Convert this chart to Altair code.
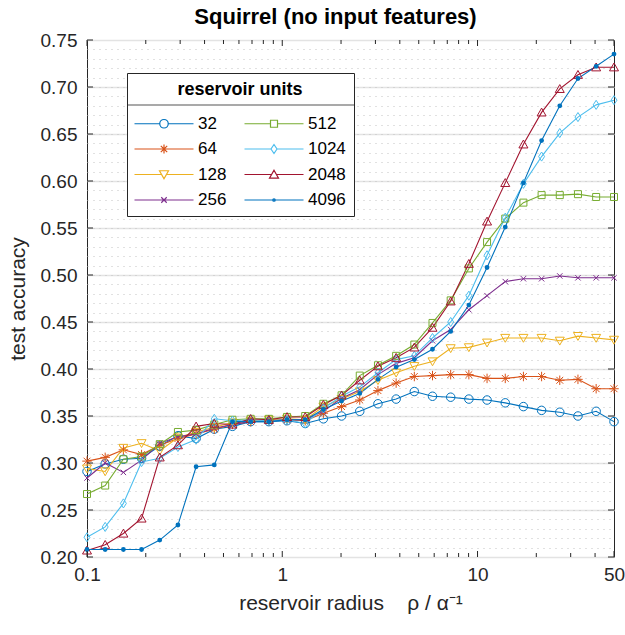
import altair as alt
import pandas as pd

# ---------------- data ----------------
radius = [0.1, 0.1239, 0.1536, 0.1903, 0.2358, 0.2922, 0.3621, 0.4486, 0.5559, 0.6889,
          0.8537, 1.058, 1.311, 1.624, 2.013, 2.494, 3.091, 3.830, 4.746, 5.881,
          7.287, 9.030, 11.19, 13.87, 17.18, 21.29, 26.38, 32.69, 40.51, 50.0]

acc_32 = [0.291, 0.299, 0.304, 0.305, 0.318, 0.329, 0.326, 0.336, 0.339, 0.344,
          0.344, 0.345, 0.342, 0.347, 0.350, 0.355, 0.363, 0.368, 0.376, 0.371,
          0.370, 0.368, 0.367, 0.364, 0.360, 0.356, 0.354, 0.350, 0.355, 0.344]
acc_64 = [0.302, 0.306, 0.314, 0.309, 0.319, 0.326, 0.331, 0.336, 0.341, 0.344,
          0.345, 0.346, 0.345, 0.353, 0.360, 0.367, 0.377, 0.385, 0.392, 0.393,
          0.394, 0.394, 0.390, 0.390, 0.392, 0.392, 0.388, 0.389, 0.379, 0.379]
acc_128 = [0.294, 0.291, 0.316, 0.321, 0.313, 0.327, 0.333, 0.338, 0.343, 0.345,
           0.346, 0.347, 0.346, 0.360, 0.368, 0.376, 0.388, 0.396, 0.403, 0.408,
           0.422, 0.423, 0.428, 0.433, 0.433, 0.433, 0.430, 0.435, 0.433, 0.431]
acc_256 = [0.284, 0.300, 0.290, 0.303, 0.321, 0.328, 0.331, 0.337, 0.341, 0.344,
           0.345, 0.346, 0.346, 0.355, 0.369, 0.378, 0.394, 0.406, 0.412, 0.430,
           0.442, 0.463, 0.478, 0.493, 0.496, 0.496, 0.499, 0.497, 0.497, 0.497]
acc_512 = [0.267, 0.276, 0.304, 0.307, 0.320, 0.333, 0.335, 0.341, 0.346, 0.347,
           0.347, 0.349, 0.350, 0.363, 0.372, 0.393, 0.404, 0.414, 0.426, 0.449,
           0.473, 0.507, 0.535, 0.560, 0.577, 0.585, 0.585, 0.586, 0.583, 0.583]
acc_1024 = [0.221, 0.232, 0.257, 0.301, 0.305, 0.317, 0.325, 0.347, 0.345, 0.346,
            0.345, 0.346, 0.342, 0.358, 0.371, 0.381, 0.396, 0.410, 0.414, 0.433,
            0.450, 0.478, 0.521, 0.561, 0.597, 0.626, 0.651, 0.668, 0.681, 0.686]
acc_2048 = [0.207, 0.213, 0.225, 0.241, 0.306, 0.319, 0.339, 0.342, 0.341, 0.347,
            0.346, 0.349, 0.349, 0.362, 0.372, 0.388, 0.403, 0.412, 0.423, 0.444,
            0.472, 0.512, 0.557, 0.598, 0.639, 0.673, 0.698, 0.713, 0.721, 0.721]
acc_4096 = [0.208, 0.208, 0.208, 0.208, 0.218, 0.234, 0.296, 0.298, 0.344, 0.344,
            0.344, 0.346, 0.346, 0.357, 0.366, 0.374, 0.389, 0.402, 0.410, 0.421,
            0.440, 0.468, 0.508, 0.551, 0.598, 0.643, 0.680, 0.709, 0.722, 0.735]

units = ["32", "64", "128", "256", "512", "1024", "2048", "4096"]
series = [acc_32, acc_64, acc_128, acc_256, acc_512, acc_1024, acc_2048, acc_4096]
colors = ["#0072BD", "#D95319", "#EDB120", "#7E2F8E",
          "#77AC30", "#4DBEEE", "#A2142F", "#0072BD"]

x_major_ticks = [0.1, 1, 10, 50]
x_minor_ticks = [0.2, 0.3, 0.4, 0.5, 0.6, 0.7, 0.8, 0.9,
                 2, 3, 4, 5, 6, 7, 8, 9, 20, 30, 40]
y_major_ticks = [0.20, 0.25, 0.30, 0.35, 0.40, 0.45, 0.50, 0.55, 0.60, 0.65, 0.70, 0.75]
y_minor_grid = [round(0.20 + 0.01 * i, 2) for i in range(1, 55)]

rows = []
for u, s in zip(units, series):
    for r, a in zip(radius, s):
        rows.append({"radius": r, "acc": a, "units": u})
df = pd.DataFrame(rows)

# ---------------- styles ----------------
FONT = "Liberation Sans, Arial, Helvetica, sans-serif"
AX = "#262626"
NB = "\u00a0"
W, H = 527, 517

markers = {
    "32": ("circle", 72, 1.0),
    "64": ("M0,-1V1M-1,0H1M-0.72,-0.72L0.72,0.72M-0.72,0.72L0.72,-0.72", 90, 1.0),
    "128": ("M-1,-0.8H1L0,0.95Z", 81, 1.0),
    "256": ("M-0.75,-0.75L0.75,0.75M-0.75,0.75L0.75,-0.75", 52, 1.0),
    "512": ("M-1,-1H1V1H-1Z", 49, 1.0),
    "1024": ("M0,-1.3L0.85,0L0,1.3L-0.85,0Z", 49, 1.0),
    "2048": ("M0,-0.95L1,0.8H-1Z", 81, 1.0),
    "4096": ("circle", 5, 2.6),
}

# legend symbols: line segment with marker in its middle (size 100 -> 5 px per unit)
a0, a1, c = -1.8, 10.0, 4.1
legend_paths = {
    "32": f"M{a0},0H{c-0.85}M{c+0.85},0H{a1}M{c+0.85},0A0.85,0.85 0 1,0 {c-0.85},0A0.85,0.85 0 1,0 {c+0.85},0",
    "64": f"M{a0},0H{a1}M{c},-0.9V0.9M{c-0.64},-0.64L{c+0.64},0.64M{c-0.64},0.64L{c+0.64},-0.64",
    "128": f"M{a0},0H{c-0.45}M{c+0.45},0H{a1}M{c-0.9},-0.75H{c+0.9}L{c},0.85Z",
    "256": f"M{a0},0H{a1}M{c-0.55},-0.55L{c+0.55},0.55M{c-0.55},0.55L{c+0.55},-0.55",
    "512": f"M{a0},0H{c-0.7}M{c+0.7},0H{a1}M{c-0.7},-0.7H{c+0.7}V0.7H{c-0.7}Z",
    "1024": f"M{a0},0H{c-0.6}M{c+0.6},0H{a1}M{c},-0.9L{c+0.6},0L{c},0.9L{c-0.6},0Z",
    "2048": f"M{a0},0H{c-0.45}M{c+0.45},0H{a1}M{c},-0.85L{c+0.9},0.72H{c-0.9}Z",
    "4096": f"M{a0},0H{a1}M{c+0.25},0A0.25,0.25 0 1,0 {c-0.25},0A0.25,0.25 0 1,0 {c+0.25},0",
}

xs = alt.Scale(type="log", domain=[0.1, 50], nice=False)
ys = alt.Scale(domain=[0.2, 0.75], nice=False, zero=False)
cs = alt.Scale(domain=units, range=colors)

# ---------------- axes ----------------
x_label_axis = alt.Axis(values=x_major_ticks, format="~g", ticks=False, domain=False, grid=False,
                        labelFlush=False, labelFont=FONT, labelFontSize=19, labelColor=AX,
                        labelPadding=8,
                        title=f"reservoir radius{NB}{NB}{NB}{NB}ρ / α⁻¹", titleFont=FONT,
                        titleFontSize=21, titleFontWeight="normal", titleColor=AX,
                        titlePadding=8)
y_label_axis = alt.Axis(values=y_major_ticks, format=".2f", ticks=False, domain=False, grid=True,
                        gridColor="#e3e3e3", gridWidth=1.3, labelFlush=False,
                        labelFont=FONT, labelFontSize=19, labelColor=AX, labelPadding=10,
                        title="test accuracy", titleFont=FONT, titleFontSize=21,
                        titleFontWeight="normal", titleColor=AX, titlePadding=12)
y_minor_axis = alt.Axis(orient="left", values=y_minor_grid, grid=True, gridDash=[1, 5],
                        gridColor="#c2c2c2", gridWidth=1, ticks=False, labels=False,
                        domain=False, title=None)

# ---------------- legend ----------------
legend = alt.Legend(
    title="reservoir units", orient="none", legendX=40, legendY=33, columns=2,
    symbolSize=100, symbolStrokeWidth=1.2, symbolOpacity=1,
    labelFont=FONT, labelFontSize=17, labelColor="black", labelOffset=46,
    titleFont=FONT, titleFontSize=18, titleFontWeight="bold", titleColor="black",
    titleAnchor="middle", titlePadding=16, padding=8, rowPadding=7.5, columnPadding=15,
    strokeColor=AX, cornerRadius=0,
)

legend_df = pd.DataFrame({"units": units})
dummy = alt.Chart(legend_df).mark_point(
    filled=False, size=100, strokeWidth=1.2, opacity=1, clip=True
).encode(
    x=alt.value(-200), y=alt.value(-200),
    color=alt.Color("units:N", scale=cs, legend=legend),
    shape=alt.Shape("units:N", scale=alt.Scale(domain=units,
                                                range=[legend_paths[u] for u in units]),
                    legend=legend),
)

one = pd.DataFrame({"a": [0]})
legend_bg = alt.Chart(one).mark_rect(color="white").encode(
    x=alt.value(40), x2=alt.value(268), y=alt.value(33), y2=alt.value(176)
)
legend_sep = alt.Chart(one).mark_rule(color="#8c8c8c", strokeWidth=1.5).encode(
    x=alt.value(40), x2=alt.value(268), y=alt.value(65)
)

# ---------------- data layers ----------------
base = alt.Chart(df)

lines = base.mark_line(strokeWidth=1.1).encode(
    x=alt.X("radius:Q", scale=xs, axis=x_label_axis),
    y=alt.Y("acc:Q", scale=ys, axis=y_label_axis),
    color=alt.Color("units:N", scale=cs, legend=None),
)

layers = [dummy, legend_bg, legend_sep, lines]
for i, u in enumerate(units):
    shape, size, sw = markers[u]
    ya = y_minor_axis if i == 0 else None
    pts = base.transform_filter(alt.datum.units == u).mark_point(
        shape=shape, size=size, filled=False, strokeWidth=sw, opacity=1
    ).encode(
        x=alt.X("radius:Q", scale=xs, axis=None),
        y=alt.Y("acc:Q", scale=ys, axis=ya),
        color=alt.Color("units:N", scale=cs, legend=None),
    )
    layers.append(pts)

# inside tick marks (box style), positioned through the scales
xmaj = alt.Chart(pd.DataFrame({"radius": x_major_ticks}))
xmin = alt.Chart(pd.DataFrame({"radius": x_minor_ticks}))
ymaj = alt.Chart(pd.DataFrame({"acc": y_major_ticks}))
tick_layers = [
    xmaj.mark_rule(color=AX, strokeWidth=1).encode(
        x=alt.X("radius:Q", scale=xs, axis=None), y=alt.value(H - 6), y2=alt.value(H)),
    xmaj.mark_rule(color=AX, strokeWidth=1).encode(
        x=alt.X("radius:Q", scale=xs, axis=None), y=alt.value(0), y2=alt.value(6)),
    xmin.mark_rule(color=AX, strokeWidth=1).encode(
        x=alt.X("radius:Q", scale=xs, axis=None), y=alt.value(H - 4), y2=alt.value(H)),
    xmin.mark_rule(color=AX, strokeWidth=1).encode(
        x=alt.X("radius:Q", scale=xs, axis=None), y=alt.value(0), y2=alt.value(4)),
    ymaj.mark_rule(color=AX, strokeWidth=1).encode(
        y=alt.Y("acc:Q", scale=ys, axis=None), x=alt.value(0), x2=alt.value(6)),
    ymaj.mark_rule(color=AX, strokeWidth=1).encode(
        y=alt.Y("acc:Q", scale=ys, axis=None), x=alt.value(W - 6), x2=alt.value(W)),
]
layers += tick_layers

chart = alt.layer(*layers).resolve_axis(x="independent", y="independent").properties(
    width=W, height=H,
    padding={"left": 87, "top": 40, "right": 11, "bottom": 78},
    autosize=alt.AutoSizeParams(type="none"),
    title=alt.TitleParams("Squirrel (no input features)", font=FONT, fontSize=22,
                          fontWeight="bold", color="black", anchor="middle",
                          frame="group", offset=2, dx=-15),
).configure_view(stroke=AX, strokeWidth=1)

chart.save("out.html", embed_options={"renderer": "svg", "actions": False})
